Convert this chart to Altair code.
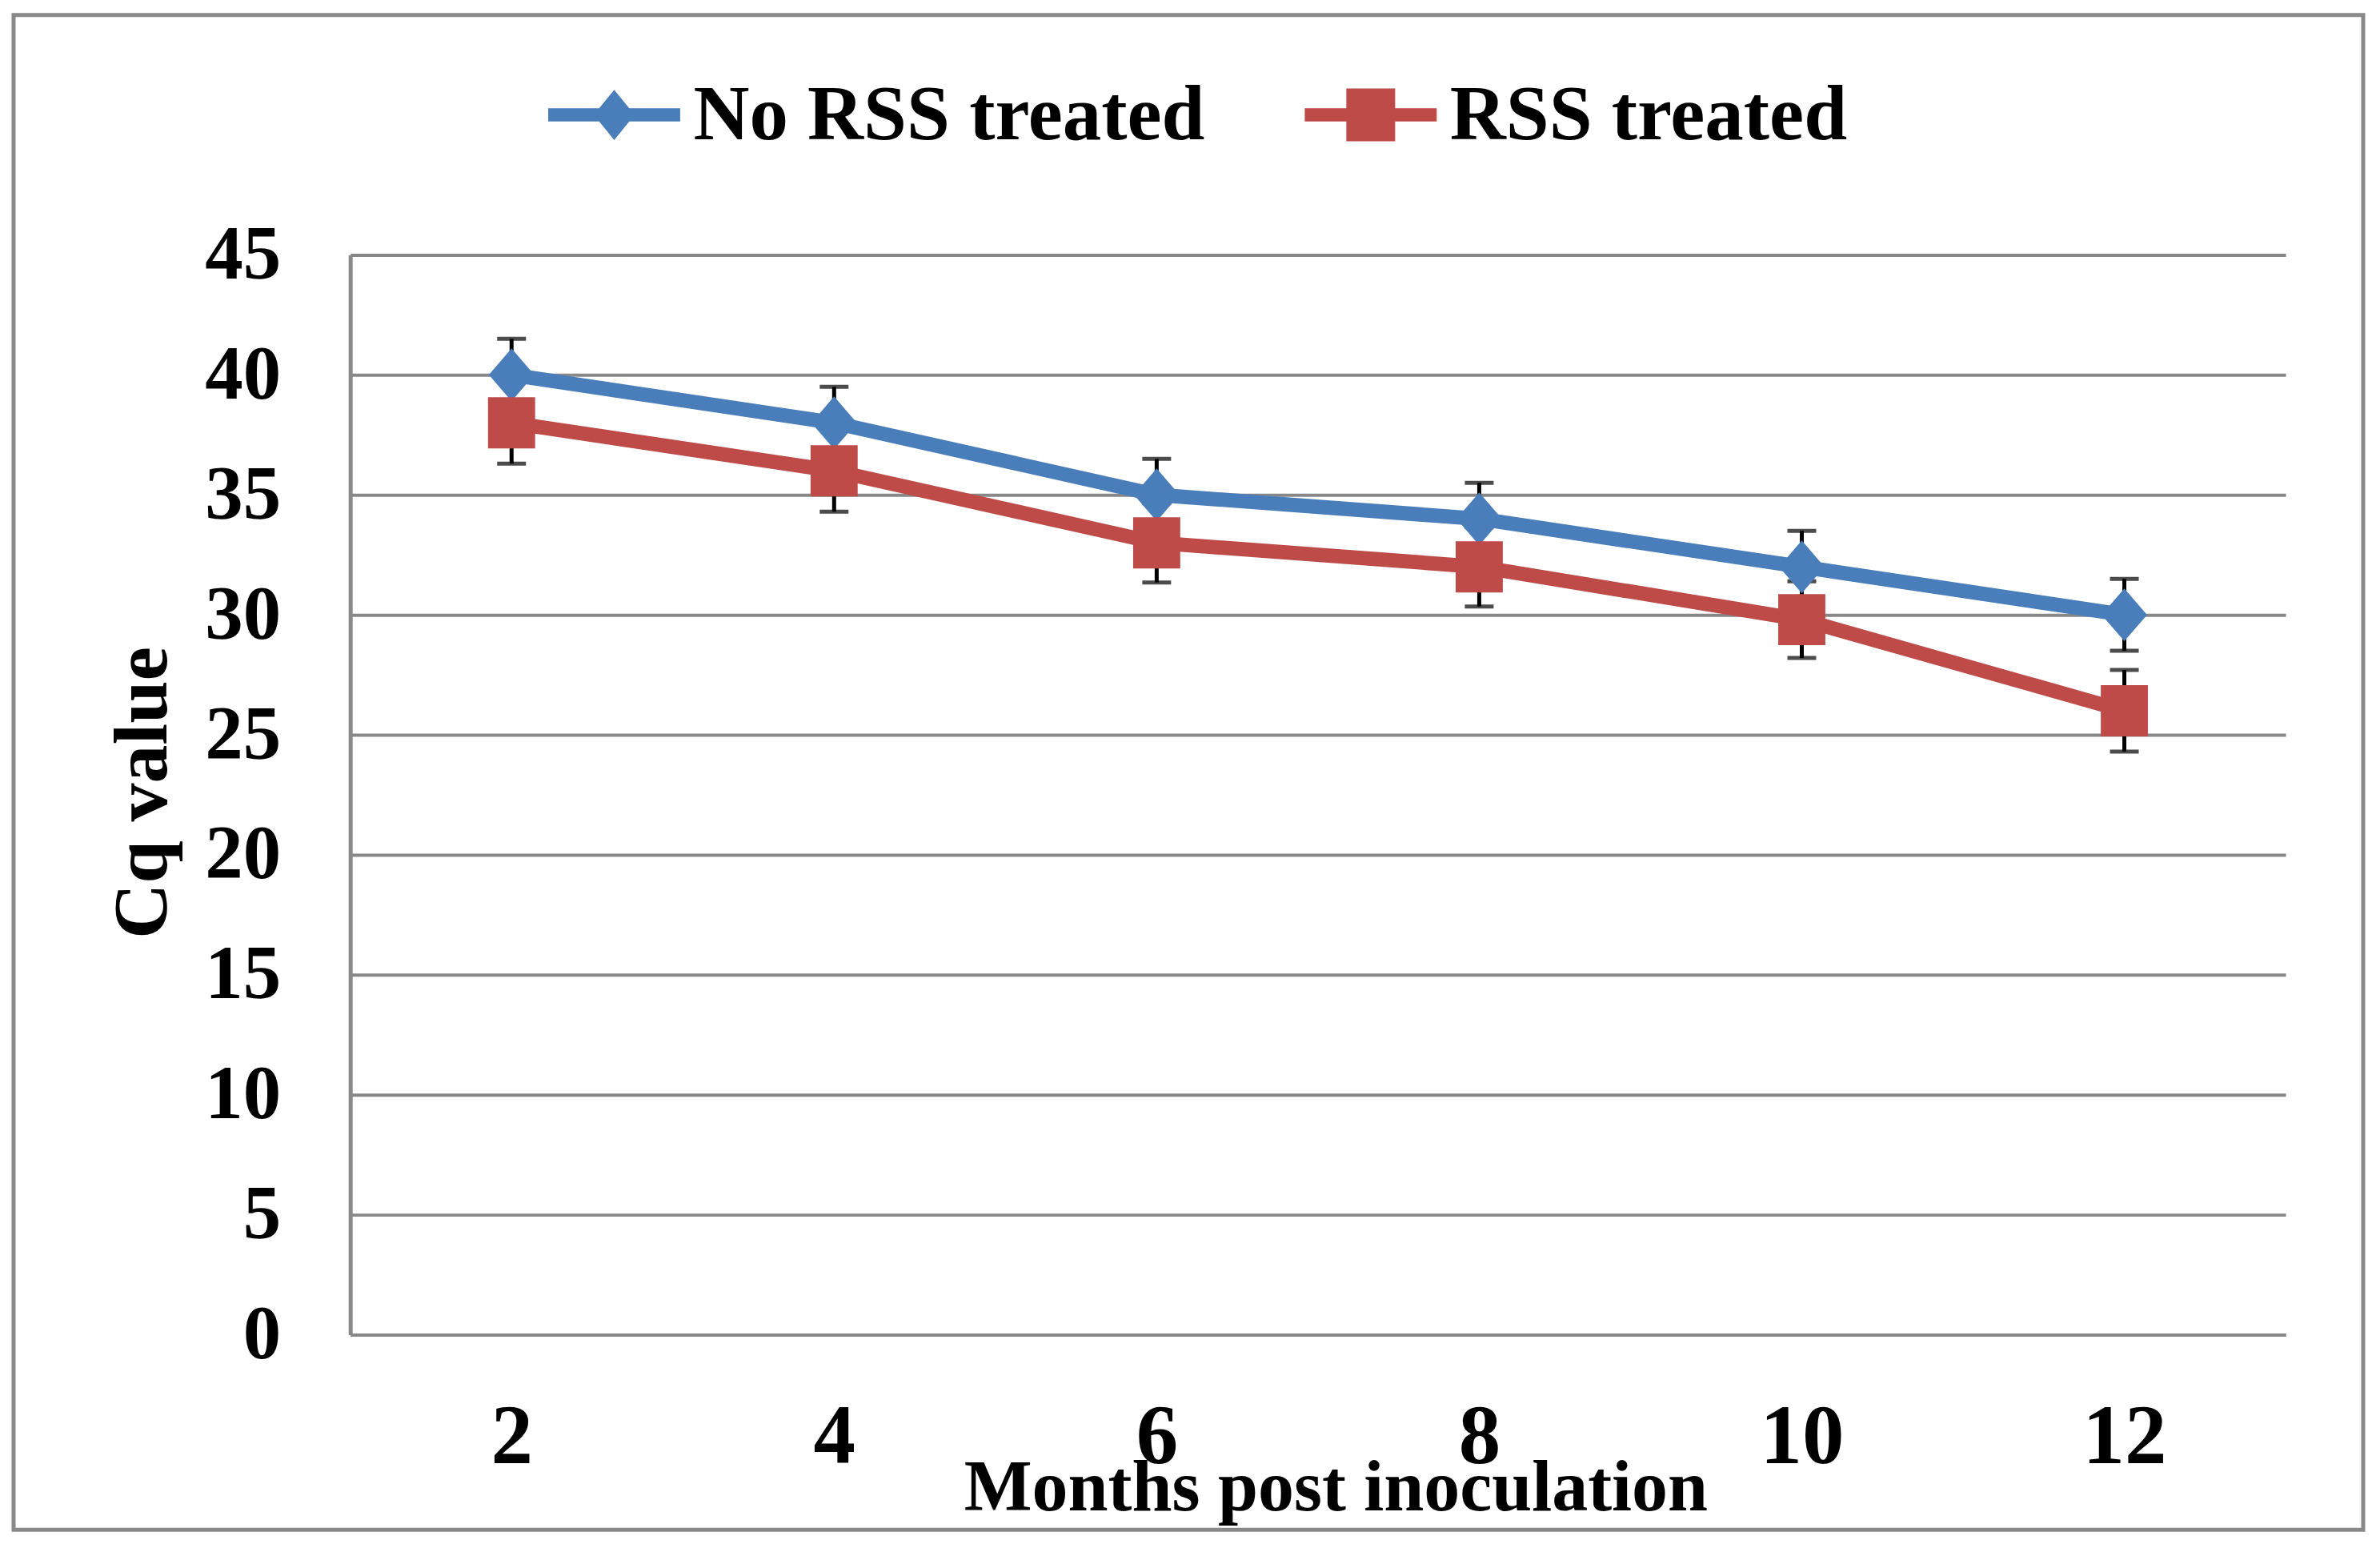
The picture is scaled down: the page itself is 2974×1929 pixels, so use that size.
import altair as alt
import pandas as pd

months = [2, 4, 6, 8, 10, 12]
series_names = ["No RSS treated", "RSS treated"]
no_rss = [40, 38, 35, 34, 32, 30]
no_rss_err = [1.5, 1.5, 1.5, 1.5, 1.5, 1.5]
rss = [38, 36, 33, 32, 29.8, 26]
rss_err = [1.7, 1.7, 1.65, 1.65, 1.6, 1.7]
y_ticks = [0, 5, 10, 15, 20, 25, 30, 35, 40, 45]
colors = ["#4A7EBB", "#BE4B48"]

rows = []
for m, v, e in zip(months, no_rss, no_rss_err):
    rows.append({"month": m, "series": series_names[0], "cq": v, "lo": v - e, "hi": v + e})
for m, v, e in zip(months, rss, rss_err):
    rows.append({"month": m, "series": series_names[1], "cq": v, "lo": v - e, "hi": v + e})
df = pd.DataFrame(rows)
legend_df = pd.DataFrame({"series": series_names})

FONT = "Liberation Serif"
GRID = "#888888"

diamond_path = "M0,-1L0.86,0L0,1L-0.86,0Z"
square_path = "M-0.92,-1L0.92,-1L0.92,1L-0.92,1Z"
legend_diamond = "M-1,-0.1L1,-0.1L1,0.1L-1,0.1Z M0,-0.38L0.31,0L0,0.38L-0.31,0Z"
legend_square = "M-1,-0.1L1,-0.1L1,0.1L-1,0.1Z M-0.37,-0.4L0.37,-0.4L0.37,0.4L-0.37,0.4Z"

x_enc = alt.X(
    "month:O",
    sort=months,
    scale=alt.Scale(type="point", padding=0.5),
    axis=alt.Axis(
        title="Months post inoculation",
        labelAngle=0,
        labelFont=FONT, labelFontWeight="bold", labelFontSize=105, labelColor="black",
        labelPadding=77, ticks=False, domain=True, domainColor=GRID, domainWidth=4,
        grid=False,
        titleFont=FONT, titleFontWeight="bold", titleFontSize=90, titleColor="black",
        titleBaseline="alphabetic", titleY=219, titleX=1232, titleAlign="center",
    ),
)
y_enc = alt.Y(
    "cq:Q",
    scale=alt.Scale(domain=[0, 45], nice=False, zero=True),
    axis=alt.Axis(
        title="Cq value", values=y_ticks,
        labelFont=FONT, labelFontWeight="bold", labelFontSize=95, labelColor="black",
        labelPadding=87, ticks=False, domain=True, domainColor=GRID, domainWidth=5,
        grid=True, gridColor=GRID, gridWidth=4,
        titleFont=FONT, titleFontWeight="bold", titleFontSize=96, titleColor="black",
        titleBaseline="alphabetic", titleX=-230, titleY=672, titleAlign="center", titleAngle=270,
    ),
)
color_scale = alt.Scale(domain=series_names, range=colors)

base = alt.Chart(df)

err_rule = base.mark_rule(color="black", strokeWidth=5).encode(
    x=x_enc, y=alt.Y("lo:Q"), y2="hi:Q"
)
cap_lo = base.mark_tick(color="black", size=36, thickness=5).encode(x=x_enc, y=alt.Y("lo:Q"))
cap_hi = base.mark_tick(color="black", size=36, thickness=5).encode(x=x_enc, y=alt.Y("hi:Q"))

lines = base.mark_line(strokeWidth=18).encode(
    x=x_enc, y=y_enc,
    stroke=alt.Stroke("series:N", scale=color_scale, legend=None),
    detail="series:N",
)

pts_blue = base.transform_filter(alt.datum.series == series_names[0]).mark_point(
    shape=diamond_path, filled=True, size=4356, opacity=1, color=colors[0]
).encode(x=x_enc, y=y_enc)

pts_red = base.transform_filter(alt.datum.series == series_names[1]).mark_point(
    shape=square_path, filled=True, size=4096, opacity=1, color=colors[1]
).encode(x=x_enc, y=y_enc)

main = alt.layer(err_rule, cap_lo, cap_hi, lines, pts_blue, pts_red)

# legend row above the plot: entries placed by a point scale over the series names
leg_x = alt.X("series:N", sort=series_names,
              scale=alt.Scale(type="point", padding=0, domain=series_names, range=[330, 1276]),
              axis=None)
leg_base = alt.Chart(legend_df)
leg_sym = leg_base.mark_point(filled=True, strokeWidth=0, size=27225, opacity=1, clip=False).encode(
    x=leg_x, y=alt.value(-175),
    shape=alt.Shape("series:N",
                    scale=alt.Scale(domain=series_names, range=[legend_diamond, legend_square]),
                    legend=None),
    fill=alt.Fill("series:N", scale=alt.Scale(domain=series_names, range=colors), legend=None),
)
leg_txt = leg_base.mark_text(
    align="left", baseline="middle", dx=99, font=FONT, fontWeight="bold",
    fontSize=97, color="black", clip=False
).encode(x=leg_x, y=alt.value(-174), text="series:N")
legend_layer = alt.layer(leg_sym, leg_txt)

frame = alt.Chart(pd.DataFrame({"k": [0]})).mark_rect(
    fill=None, stroke="#898989", strokeWidth=5, clip=False
).encode(
    x=alt.value(-421), x2=alt.value(2517), y=alt.value(-300), y2=alt.value(1594)
)

chart = alt.layer(frame, main, legend_layer).resolve_scale(
    x="independent", shape="independent", fill="independent"
).properties(
    width=2420, height=1350,
    autosize=alt.AutoSizeParams(type="none"),
    padding={"left": 430, "top": 310, "right": 110, "bottom": 255},
    background="white",
).configure_view(stroke=None)

chart.save("out.html", embed_options={"renderer": "svg", "actions": False})
